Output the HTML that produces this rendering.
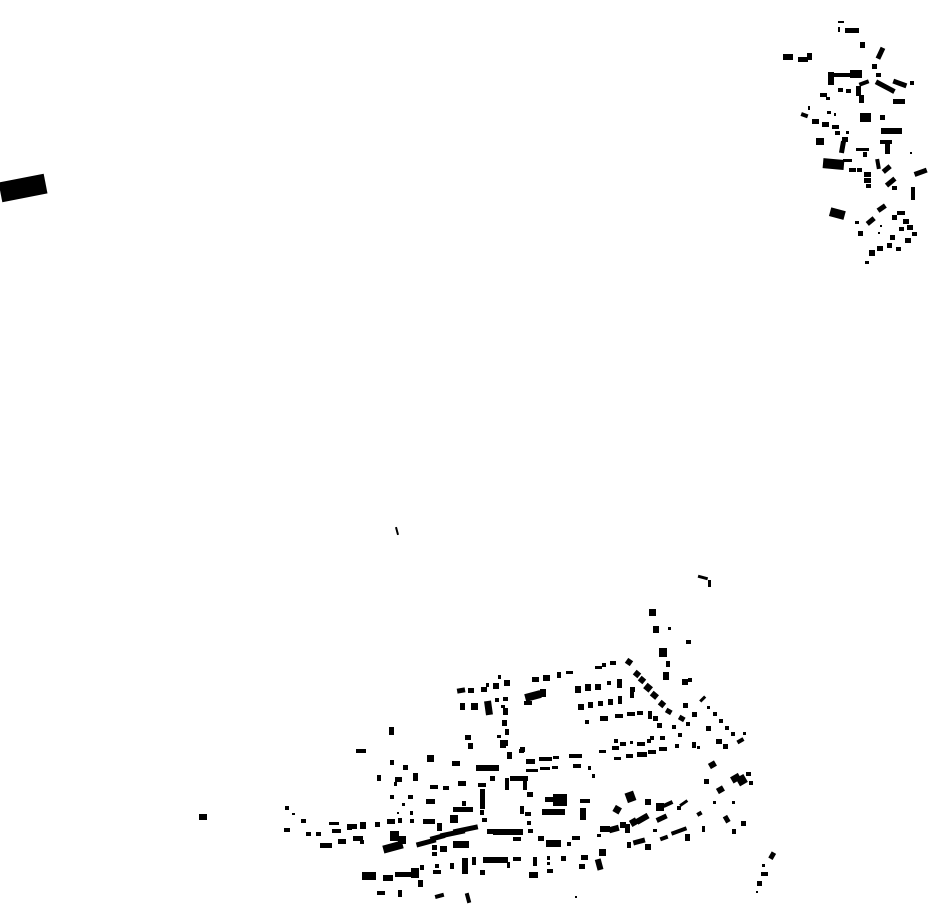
<!DOCTYPE html>
<html><head><meta charset="utf-8"><style>html,body{margin:0;padding:0;background:#fff}svg{display:block}</style></head><body>
<svg width="930" height="924" viewBox="0 0 930 924" xmlns="http://www.w3.org/2000/svg"><g fill="#000">
<rect x="0" y="178" width="46" height="20" transform="rotate(-11 23 188)"/>
<rect x="199" y="814" width="8" height="6"/>
<rect x="396" y="527" width="2" height="8" transform="rotate(-15 397 531)"/>
<rect x="698" y="576" width="10" height="3" transform="rotate(15 703 577)"/><rect x="708" y="580" width="3" height="7"/>
<!-- top right cluster -->
<rect x="838" y="21" width="6" height="2"/><rect x="838" y="27" width="2" height="5"/><rect x="845" y="28" width="14" height="5"/>
<rect x="860" y="42" width="5" height="6"/>
<rect x="783" y="54" width="10" height="6"/><rect x="798" y="57" width="10" height="5"/><rect x="807" y="53" width="5" height="7"/>
<rect x="878" y="47" width="5" height="12" transform="rotate(25 880 53)"/>
<rect x="872" y="64" width="5" height="5"/><rect x="876" y="73" width="5" height="4"/>
<rect x="828" y="72" width="6" height="13"/><rect x="833" y="73" width="18" height="4"/><rect x="850" y="70" width="12" height="8"/>
<rect x="838" y="88" width="5" height="4"/><rect x="846" y="89" width="5" height="4"/>
<rect x="856" y="86" width="5" height="10"/><rect x="859" y="95" width="5" height="8"/>
<rect x="859" y="81" width="10" height="4" transform="rotate(-20 864 83)"/>
<rect x="875" y="84" width="21" height="5" transform="rotate(28 885 86)"/><rect x="893" y="81" width="14" height="5" transform="rotate(20 900 83)"/><rect x="910" y="81" width="4" height="4"/>
<rect x="893" y="99" width="12" height="5"/>
<rect x="820" y="93" width="7" height="4"/><rect x="826" y="97" width="4" height="3"/>
<rect x="801" y="113" width="7" height="4" transform="rotate(20 804 115)"/><rect x="812" y="119" width="7" height="5"/><rect x="822" y="122" width="7" height="5"/><rect x="832" y="125" width="7" height="4"/><rect x="835" y="131" width="5" height="4"/><rect x="842" y="137" width="6" height="5"/><rect x="846" y="131" width="3" height="3"/><rect x="808" y="106" width="2" height="4"/><rect x="827" y="111" width="4" height="3"/><rect x="834" y="113" width="2" height="3"/>
<rect x="860" y="113" width="11" height="9"/><rect x="880" y="115" width="5" height="5"/>
<rect x="881" y="128" width="21" height="6"/>
<rect x="816" y="138" width="8" height="7"/>
<rect x="840" y="141" width="5" height="12" transform="rotate(10 842 147)"/>
<rect x="856" y="148" width="13" height="3"/><rect x="863" y="152" width="4" height="5"/>
<rect x="880" y="140" width="12" height="4"/><rect x="885" y="144" width="5" height="10"/>
<rect x="823" y="159" width="21" height="10" transform="rotate(5 833 164)"/><rect x="843" y="159" width="9" height="3"/>
<rect x="849" y="168" width="7" height="4"/><rect x="857" y="168" width="5" height="4"/>
<rect x="864" y="172" width="7" height="5"/><rect x="864" y="178" width="7" height="5"/><rect x="866" y="184" width="5" height="4"/>
<rect x="876" y="159" width="4" height="10" transform="rotate(-10 878 164)"/><rect x="882" y="167" width="9" height="5" transform="rotate(-40 886 169)"/>
<rect x="885" y="180" width="11" height="5" transform="rotate(-40 890 182)"/><rect x="892" y="186" width="5" height="4"/>
<rect x="914" y="170" width="13" height="5" transform="rotate(-20 920 172)"/><rect x="911" y="187" width="4" height="13"/>
<rect x="910" y="152" width="2" height="2"/>
<rect x="830" y="209" width="15" height="9" transform="rotate(15 837 213)"/><rect x="855" y="221" width="4" height="3"/>
<rect x="877" y="206" width="9" height="5" transform="rotate(-35 881 208)"/><rect x="866" y="219" width="9" height="5" transform="rotate(-40 870 221)"/><rect x="858" y="231" width="5" height="5"/>
<rect x="892" y="215" width="5" height="5"/><rect x="897" y="211" width="8" height="4"/><rect x="903" y="219" width="6" height="5"/><rect x="907" y="225" width="6" height="5"/><rect x="899" y="227" width="5" height="4"/><rect x="912" y="232" width="5" height="4"/><rect x="905" y="238" width="6" height="5"/>
<rect x="890" y="235" width="5" height="5"/><rect x="880" y="225" width="2" height="2"/><rect x="878" y="232" width="2" height="2"/>
<rect x="887" y="243" width="5" height="5"/><rect x="896" y="247" width="5" height="4"/><rect x="877" y="246" width="6" height="5"/><rect x="869" y="250" width="6" height="6"/>
<rect x="865" y="261" width="4" height="3"/>
<!-- bottom cluster north-central -->
<rect x="457" y="688" width="8" height="5" transform="rotate(-10 461 690)"/><rect x="468" y="688" width="6" height="5"/><rect x="481" y="687" width="6" height="5"/><rect x="486" y="683" width="3" height="4"/><rect x="493" y="683" width="6" height="6"/><rect x="498" y="675" width="3" height="4"/><rect x="504" y="680" width="6" height="6"/>
<rect x="460" y="703" width="5" height="7"/><rect x="471" y="703" width="7" height="7"/><rect x="485" y="701" width="7" height="14" transform="rotate(-8 488 708)"/><rect x="495" y="698" width="4" height="4"/><rect x="503" y="697" width="5" height="4"/>
<rect x="501" y="705" width="4" height="3"/><rect x="503" y="708" width="5" height="7"/><rect x="502" y="720" width="5" height="6"/><rect x="505" y="729" width="4" height="6"/><rect x="497" y="735" width="4" height="3"/><rect x="500" y="740" width="6" height="8"/>
<rect x="543" y="675" width="7" height="6"/><rect x="557" y="672" width="4" height="6"/>
<!-- bottom cluster west -->
<rect x="356" y="749" width="10" height="4"/><rect x="389" y="727" width="5" height="8"/><rect x="465" y="735" width="6" height="5"/>
<rect x="468" y="743" width="5" height="6"/><rect x="502" y="740" width="6" height="6"/>
<rect x="390" y="760" width="4" height="5"/><rect x="403" y="765" width="5" height="5"/><rect x="427" y="755" width="7" height="7"/><rect x="452" y="761" width="8" height="5"/><rect x="476" y="765" width="23" height="6"/><rect x="507" y="752" width="5" height="7"/><rect x="520" y="747" width="5" height="5"/>
<rect x="377" y="775" width="4" height="6"/><rect x="395" y="777" width="7" height="5"/><rect x="394" y="782" width="3" height="4"/><rect x="413" y="773" width="5" height="8"/><rect x="430" y="785" width="8" height="4"/><rect x="443" y="786" width="6" height="4"/><rect x="458" y="781" width="8" height="5"/><rect x="478" y="783" width="8" height="4"/>
<rect x="480" y="789" width="5" height="20"/><rect x="490" y="776" width="5" height="5"/><rect x="510" y="776" width="18" height="5"/><rect x="505" y="778" width="4" height="12"/>
<rect x="390" y="795" width="4" height="4"/><rect x="408" y="795" width="5" height="4"/><rect x="426" y="799" width="9" height="5"/><rect x="402" y="803" width="3" height="3"/><rect x="397" y="812" width="2" height="2"/><rect x="410" y="811" width="3" height="4"/>
<rect x="285" y="806" width="4" height="4"/><rect x="292" y="813" width="3" height="2"/><rect x="301" y="819" width="5" height="4"/><rect x="284" y="828" width="6" height="4"/><rect x="306" y="832" width="5" height="4"/><rect x="316" y="832" width="5" height="4"/><rect x="329" y="822" width="10" height="3"/><rect x="332" y="829" width="9" height="4"/><rect x="347" y="824" width="5" height="6"/><rect x="352" y="824" width="5" height="5"/><rect x="360" y="822" width="6" height="7"/><rect x="375" y="822" width="5" height="5"/><rect x="387" y="819" width="8" height="5"/><rect x="398" y="818" width="4" height="5"/><rect x="410" y="819" width="4" height="4"/>
<rect x="320" y="843" width="12" height="5"/><rect x="338" y="839" width="8" height="5"/><rect x="353" y="836" width="10" height="5"/><rect x="360" y="840" width="4" height="4"/>
<rect x="383" y="843" width="20" height="8" transform="rotate(-15 393 847)"/><rect x="390" y="831" width="9" height="10"/><rect x="398" y="836" width="8" height="8"/>
<rect x="423" y="819" width="12" height="5"/><rect x="437" y="823" width="5" height="8"/><rect x="450" y="815" width="8" height="8"/><rect x="453" y="807" width="20" height="5"/><rect x="462" y="801" width="4" height="5"/>
<rect x="416" y="840" width="20" height="5" transform="rotate(-15 426 842)"/><rect x="430" y="835" width="15" height="5" transform="rotate(-15 437 837)"/><rect x="440" y="831" width="25" height="5" transform="rotate(-12 452 833)"/><rect x="453" y="827" width="25" height="5" transform="rotate(-12 465 829)"/>
<rect x="432" y="845" width="5" height="5"/><rect x="440" y="846" width="7" height="6"/><rect x="432" y="852" width="5" height="4"/>
<rect x="453" y="841" width="16" height="7"/>
<rect x="480" y="810" width="4" height="5"/><rect x="482" y="818" width="5" height="4"/><rect x="487" y="829" width="10" height="5"/><rect x="493" y="829" width="30" height="6"/><rect x="513" y="837" width="8" height="4"/>
<rect x="462" y="858" width="6" height="16"/><rect x="472" y="857" width="4" height="8"/><rect x="483" y="857" width="25" height="6"/><rect x="507" y="862" width="3" height="6"/><rect x="513" y="857" width="8" height="4"/>
<rect x="435" y="864" width="4" height="4"/><rect x="433" y="870" width="8" height="4"/><rect x="450" y="863" width="4" height="6"/>
<rect x="362" y="872" width="14" height="8"/><rect x="383" y="875" width="10" height="6"/><rect x="395" y="872" width="20" height="5"/><rect x="411" y="868" width="8" height="10"/><rect x="420" y="865" width="4" height="5"/><rect x="418" y="880" width="5" height="7"/>
<rect x="377" y="891" width="8" height="4"/><rect x="398" y="890" width="4" height="7"/><rect x="435" y="894" width="9" height="4" transform="rotate(-15 439 896)"/><rect x="466" y="893" width="4" height="10" transform="rotate(-15 468 898)"/>
<rect x="480" y="870" width="5" height="5"/>
<!-- bottom cluster east -->
<rect x="649" y="609" width="7" height="7"/><rect x="653" y="626" width="6" height="7"/><rect x="668" y="627" width="3" height="3"/><rect x="686" y="640" width="5" height="4"/><rect x="659" y="648" width="8" height="9"/><rect x="666" y="661" width="4" height="6"/><rect x="663" y="672" width="6" height="8"/><rect x="682" y="679" width="6" height="6"/><rect x="688" y="678" width="4" height="4"/>
<rect x="532" y="677" width="7" height="5"/><rect x="566" y="671" width="7" height="3"/><rect x="595" y="666" width="7" height="3"/><rect x="602" y="663" width="4" height="4"/><rect x="610" y="661" width="6" height="4"/><rect x="626" y="659" width="6" height="6" transform="rotate(35 629 662)"/>
<rect x="525" y="692" width="16" height="8" transform="rotate(-15 533 696)"/><rect x="540" y="689" width="6" height="8"/><rect x="524" y="701" width="8" height="4"/>
<rect x="575" y="686" width="6" height="7"/><rect x="585" y="684" width="6" height="7"/><rect x="595" y="684" width="6" height="6"/><rect x="607" y="681" width="4" height="4"/><rect x="617" y="679" width="5" height="9"/>
<rect x="630" y="687" width="5" height="5"/><rect x="634" y="671" width="6" height="6" transform="rotate(40 637 674)"/><rect x="639" y="677" width="6" height="6" transform="rotate(40 642 680)"/><rect x="645" y="684" width="7" height="7" transform="rotate(40 648 687)"/><rect x="651" y="692" width="7" height="6" transform="rotate(40 654 695)"/><rect x="659" y="701" width="6" height="6" transform="rotate(40 662 704)"/><rect x="666" y="709" width="6" height="5" transform="rotate(30 669 711)"/><rect x="679" y="716" width="6" height="5" transform="rotate(30 682 718)"/><rect x="686" y="722" width="4" height="4"/>
<rect x="578" y="704" width="6" height="6"/><rect x="588" y="702" width="5" height="6"/><rect x="598" y="701" width="5" height="5"/><rect x="608" y="699" width="5" height="6"/><rect x="618" y="696" width="4" height="8"/><rect x="630" y="692" width="4" height="6"/>
<rect x="683" y="703" width="5" height="5"/><rect x="692" y="712" width="5" height="5"/><rect x="699" y="698" width="7" height="3" transform="rotate(-45 702 699)"/><rect x="707" y="706" width="3" height="3"/><rect x="713" y="712" width="4" height="4"/><rect x="719" y="719" width="4" height="4"/><rect x="725" y="726" width="4" height="4"/><rect x="731" y="732" width="4" height="4"/><rect x="737" y="739" width="7" height="4" transform="rotate(-30 740 741)"/><rect x="743" y="732" width="3" height="3"/>
<rect x="706" y="726" width="5" height="5"/><rect x="716" y="739" width="6" height="5"/><rect x="723" y="744" width="5" height="5"/>
<rect x="585" y="720" width="4" height="4"/><rect x="600" y="716" width="8" height="5"/><rect x="615" y="714" width="8" height="4"/><rect x="627" y="712" width="8" height="4"/><rect x="637" y="711" width="6" height="4"/><rect x="648" y="711" width="4" height="8"/><rect x="653" y="716" width="5" height="5"/>
<rect x="657" y="723" width="5" height="5"/><rect x="672" y="725" width="4" height="4"/><rect x="678" y="733" width="4" height="4"/>
<rect x="599" y="750" width="7" height="3"/><rect x="612" y="746" width="7" height="4"/><rect x="614" y="739" width="4" height="4"/><rect x="620" y="742" width="6" height="4"/><rect x="630" y="741" width="3" height="3"/><rect x="637" y="742" width="8" height="4"/><rect x="647" y="739" width="4" height="4"/><rect x="650" y="736" width="4" height="4"/><rect x="660" y="736" width="5" height="4"/><rect x="675" y="744" width="4" height="4"/><rect x="692" y="742" width="4" height="6"/><rect x="697" y="746" width="3" height="3"/>
<rect x="614" y="757" width="7" height="3"/><rect x="626" y="754" width="7" height="4"/><rect x="637" y="752" width="10" height="5"/><rect x="648" y="750" width="8" height="4"/><rect x="659" y="747" width="8" height="4"/>
<rect x="519" y="749" width="5" height="4"/><rect x="526" y="759" width="9" height="5"/><rect x="539" y="757" width="13" height="4"/><rect x="553" y="756" width="6" height="3"/><rect x="569" y="754" width="10" height="4"/><rect x="576" y="754" width="6" height="4"/><rect x="526" y="769" width="12" height="3"/><rect x="540" y="767" width="10" height="3"/><rect x="552" y="766" width="6" height="3"/><rect x="573" y="764" width="8" height="4"/><rect x="588" y="766" width="3" height="4"/><rect x="592" y="774" width="3" height="4"/>
<rect x="523" y="779" width="4" height="11"/><rect x="527" y="792" width="6" height="5"/><rect x="545" y="797" width="14" height="5"/><rect x="553" y="794" width="14" height="12"/><rect x="542" y="809" width="23" height="6"/><rect x="580" y="799" width="10" height="4"/><rect x="580" y="808" width="6" height="12"/>
<rect x="520" y="806" width="4" height="8"/><rect x="525" y="812" width="6" height="4"/><rect x="527" y="821" width="4" height="4"/><rect x="528" y="829" width="5" height="4"/><rect x="538" y="836" width="6" height="5"/><rect x="546" y="840" width="15" height="7"/><rect x="572" y="836" width="8" height="4"/><rect x="567" y="842" width="4" height="4"/>
<rect x="626" y="792" width="9" height="10" transform="rotate(-20 630 797)"/><rect x="614" y="806" width="7" height="7" transform="rotate(30 617 809)"/><rect x="645" y="799" width="6" height="6"/><rect x="656" y="803" width="8" height="8"/><rect x="663" y="802" width="10" height="4" transform="rotate(-25 668 804)"/><rect x="679" y="802" width="9" height="3" transform="rotate(-35 683 803)"/><rect x="636" y="816" width="13" height="6" transform="rotate(-30 642 819)"/><rect x="656" y="816" width="11" height="5" transform="rotate(-25 661 818)"/><rect x="677" y="806" width="4" height="4"/>
<rect x="600" y="826" width="10" height="6"/><rect x="609" y="826" width="10" height="6" transform="rotate(-15 614 829)"/><rect x="620" y="822" width="6" height="6"/><rect x="625" y="824" width="5" height="9"/><rect x="630" y="819" width="7" height="7" transform="rotate(-30 633 822)"/>
<rect x="633" y="839" width="12" height="5" transform="rotate(-15 639 841)"/><rect x="645" y="844" width="6" height="6"/><rect x="660" y="836" width="8" height="4" transform="rotate(-20 664 838)"/><rect x="671" y="829" width="16" height="4" transform="rotate(-20 679 831)"/><rect x="685" y="834" width="5" height="7"/><rect x="697" y="812" width="5" height="4" transform="rotate(-30 699 814)"/><rect x="702" y="826" width="3" height="6"/>
<rect x="627" y="842" width="4" height="6"/><rect x="653" y="829" width="4" height="3"/><rect x="597" y="834" width="4" height="3"/>
<rect x="709" y="762" width="7" height="6" transform="rotate(-30 712 765)"/><rect x="704" y="779" width="5" height="5"/><rect x="717" y="787" width="7" height="6" transform="rotate(-30 720 790)"/><rect x="713" y="801" width="3" height="3"/><rect x="732" y="801" width="3" height="3"/>
<rect x="731" y="775" width="9" height="7" transform="rotate(-30 735 778)"/><rect x="737" y="776" width="9" height="9" transform="rotate(-30 741 780)"/><rect x="746" y="772" width="5" height="4"/><rect x="749" y="781" width="4" height="4"/>
<rect x="724" y="816" width="5" height="7" transform="rotate(-30 726 819)"/><rect x="732" y="829" width="4" height="5"/><rect x="741" y="821" width="5" height="5"/>
<rect x="770" y="852" width="5" height="7" transform="rotate(30 772 855)"/><rect x="762" y="864" width="3" height="3"/><rect x="761" y="872" width="7" height="4"/><rect x="757" y="881" width="5" height="5"/><rect x="756" y="891" width="2" height="2"/>
<rect x="533" y="857" width="4" height="9"/><rect x="547" y="856" width="3" height="4"/><rect x="547" y="862" width="3" height="3"/><rect x="561" y="856" width="5" height="5"/><rect x="581" y="855" width="7" height="5"/><rect x="579" y="864" width="6" height="5"/><rect x="599" y="849" width="7" height="7"/><rect x="596" y="859" width="6" height="11" transform="rotate(-15 599 864)"/><rect x="529" y="872" width="9" height="6"/><rect x="547" y="869" width="6" height="4"/><rect x="575" y="896" width="2" height="2"/>
</g></svg>
</body></html>
